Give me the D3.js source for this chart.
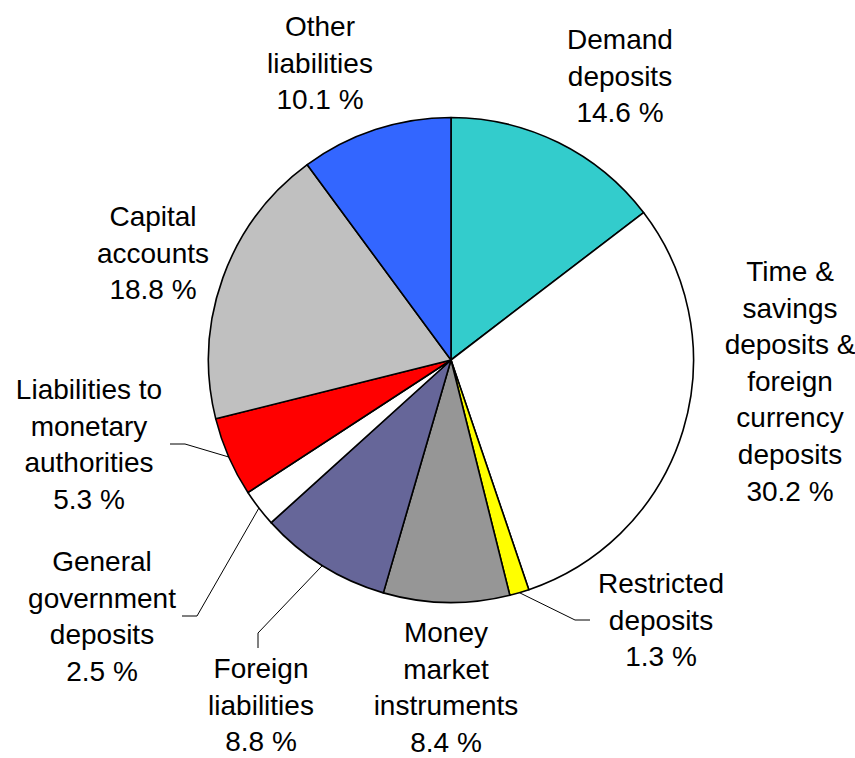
<!DOCTYPE html>
<html>
<head>
<meta charset="utf-8">
<script src="https://cdn.jsdelivr.net/npm/d3@7"></script>
<style>
  html, body { margin: 0; padding: 0; background: #fff; }
  svg { display: block; }
</style>
</head>
<body>
<script>
// ---- data ----
const categories = [
  "Demand deposits",
  "Time & savings deposits & foreign currency deposits",
  "Restricted deposits",
  "Money market instruments",
  "Foreign liabilities",
  "General government deposits",
  "Liabilities to monetary authorities",
  "Capital accounts",
  "Other liabilities"
];
const values = [14.6, 30.2, 1.3, 8.4, 8.8, 2.5, 5.3, 18.8, 10.1];
const labelLines = [
  ["Demand", "deposits"],
  ["Time &", "savings", "deposits &", "foreign", "currency", "deposits"],
  ["Restricted", "deposits"],
  ["Money", "market", "instruments"],
  ["Foreign", "liabilities"],
  ["General", "government", "deposits"],
  ["Liabilities to", "monetary", "authorities"],
  ["Capital", "accounts"],
  ["Other", "liabilities"]
];
const colors = ["#33CCCC", "#FFFFFF", "#FFFF00", "#969696", "#666699", "#FFFFFF", "#FF0000", "#C0C0C0", "#3366FF"];

// ---- layout ----
const W = 855, H = 758;
const cx = 451, cy = 360, R = 242.5;
const fontSize = 28, lineH = 36.6;
// label anchor: center x, first baseline y
const labelPos = [
  [620, 49], [790, 281], [661, 593], [446, 642], [261, 678],
  [102, 571], [89, 399], [153, 226], [320, 36]
];
// leader lines: [elbow, end] (null = no leader)
const leaders = [
  null, null,
  [[575, 620], [590, 620]],
  null,
  [[258, 633], [258, 648]],
  [[197, 616], [182, 616]],
  [[185, 444], [170, 444]],
  null, null
];

const svg = d3.select("body").append("svg")
  .attr("width", W).attr("height", H);

const pie = d3.pie().sort(null).value(d => d)(values);
const arc = d3.arc().innerRadius(0).outerRadius(R);

const g = svg.append("g").attr("transform", `translate(${cx},${cy})`);
g.selectAll("path.slice").data(pie).enter().append("path")
  .attr("class", "slice")
  .attr("d", arc)
  .attr("fill", (d, i) => colors[i])
  .attr("stroke", "#000")
  .attr("stroke-width", 1.6)
  .attr("stroke-linejoin", "round");

// leader lines
pie.forEach((d, i) => {
  const L = leaders[i];
  if (!L) return;
  const a = (d.startAngle + d.endAngle) / 2;
  const p0 = [cx + R * Math.sin(a), cy - R * Math.cos(a)];
  svg.append("polyline")
    .attr("points", [p0, L[0], L[1]].map(p => p.join(",")).join(" "))
    .attr("fill", "none")
    .attr("stroke", "#000")
    .attr("stroke-width", 1);
});

// labels
const fmt = v => v.toFixed(1) + " %";
labelLines.forEach((lines, i) => {
  const all = lines.concat([fmt(values[i])]);
  const t = svg.append("text")
    .attr("text-anchor", "middle")
    .attr("font-family", "Liberation Sans, Arial, sans-serif")
    .attr("font-size", fontSize)
    .attr("fill", "#000");
  all.forEach((s, k) => {
    t.append("tspan")
      .attr("x", labelPos[i][0])
      .attr("y", labelPos[i][1] + k * lineH)
      .text(s);
  });
});
</script>
</body>
</html>
